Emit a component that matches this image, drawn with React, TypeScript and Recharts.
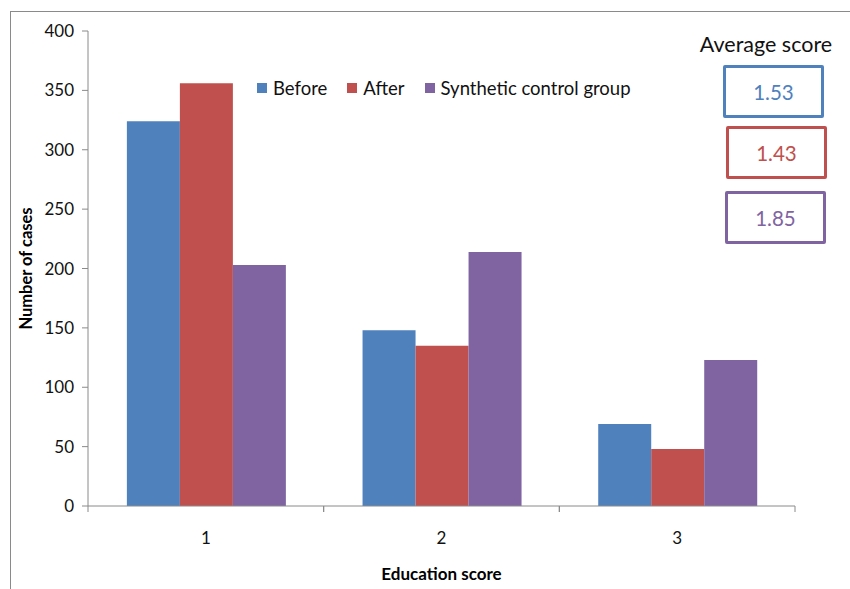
import { BarChart, Bar, XAxis, YAxis, Legend } from "recharts";

const categories = ["1", "2", "3"];
const before = [324, 148, 69];
const after = [356, 135, 48];
const synthetic = [203, 214, 123];
const yTicks = [0, 50, 100, 150, 200, 250, 300, 350, 400];

const seriesNames = ["Before", "After", "Synthetic control group"];
const averages = ["1.53", "1.43", "1.85"];
const colors = ["#4F81BD", "#C0504D", "#8064A2"];

const data = categories.map((c, i) => ({
  name: c,
  before: before[i],
  after: after[i],
  synthetic: synthetic[i],
}));

const W = 850;
const H = 589;
const margin = { top: 31, right: 55, left: 28, bottom: 43 };
const yAxisWidth = 60;
const plotWidth = W - margin.left - margin.right - yAxisWidth;
const band = plotWidth / categories.length;
const axisColor = "#8a8a8a";
const font = "Lato, 'Open Sans', sans-serif";

function CategoryTick(props: any) {
  const { x, y, payload } = props;
  const half = band / 2;
  return (
    <g>
      <line x1={x - half} y1={y - 8} x2={x - half} y2={y - 2} stroke={axisColor} />
      <line x1={x + half} y1={y - 8} x2={x + half} y2={y - 2} stroke={axisColor} />
      <text x={x} y={y + 30} textAnchor="middle" fontSize={17} fill="#111" fontFamily={font}>
        {payload.value}
      </text>
    </g>
  );
}

function LegendContent() {
  return (
    <div style={{ display: "flex", alignItems: "center", fontFamily: font, fontSize: 18.5, color: "#111" }}>
      {seriesNames.map((n, i) => (
        <div key={n} style={{ display: "flex", alignItems: "center", marginRight: 20 }}>
          <span style={{ width: 10, height: 10, background: colors[i], marginRight: 6 }} />
          <span>{n}</span>
        </div>
      ))}
    </div>
  );
}

export default function App() {
  return (
    <div style={{ position: "absolute", left: 0, top: 0, width: W, height: H, background: "#fff", overflow: "hidden" }}>
      <div
        style={{
          position: "absolute",
          left: 10,
          top: 11,
          width: W,
          height: H,
          borderLeft: `1.5px solid ${axisColor}`,
          borderTop: `1.5px solid ${axisColor}`,
        }}
      />
      <BarChart
        width={W}
        height={H}
        data={data}
        margin={margin}
        barCategoryGap="16.5%"
        barGap={0}
      >
        <XAxis
          dataKey="name"
          axisLine={{ stroke: axisColor }}
          tickLine={false}
          tick={<CategoryTick />}
          height={40}
          label={{
            value: "Education score",
            position: "insideBottom",
            offset: -34,
            style: { fontWeight: 700, fontSize: 17, fill: "#000", fontFamily: font },
          }}
        />
        <YAxis
          width={yAxisWidth}
          domain={[0, 400]}
          ticks={yTicks}
          interval={0}
          axisLine={{ stroke: axisColor }}
          tickLine={{ stroke: axisColor }}
          tickSize={6}
          tick={{ fontSize: 17, fill: "#111", fontFamily: font, dx: -6 }}
          label={{
            value: "Number of cases",
            angle: -90,
            position: "insideLeft",
            offset: -2,
            style: { textAnchor: "middle", fontWeight: 700, fontSize: 16.5, fill: "#000", fontFamily: font },
          }}
        />
        <Legend
          verticalAlign="middle"
          align="center"
          content={<LegendContent />}
          wrapperStyle={{ position: "absolute", top: 77, left: 257, width: 460 }}
        />
        <Bar dataKey="before" name={seriesNames[0]} fill={colors[0]} isAnimationActive={false} />
        <Bar dataKey="after" name={seriesNames[1]} fill={colors[1]} isAnimationActive={false} />
        <Bar dataKey="synthetic" name={seriesNames[2]} fill={colors[2]} isAnimationActive={false} />
      </BarChart>
      <div
        style={{
          position: "absolute",
          left: 691,
          top: 31,
          width: 150,
          textAlign: "center",
          fontFamily: font,
          fontSize: 21.5,
          color: "#111",
        }}
      >
        Average score
      </div>
      {averages.map((a, i) => (
        <div
          key={a}
          style={{
            position: "absolute",
            left: [723, 726, 725][i],
            top: [65, 126, 191][i],
            width: 95,
            height: 47,
            border: `3.5px solid ${colors[i]}`,
            borderRadius: 2,
            display: "flex",
            alignItems: "center",
            justifyContent: "center",
            fontFamily: font,
            fontSize: 20.5,
            color: colors[i],
          }}
        >
          {a}
        </div>
      ))}
    </div>
  );
}
